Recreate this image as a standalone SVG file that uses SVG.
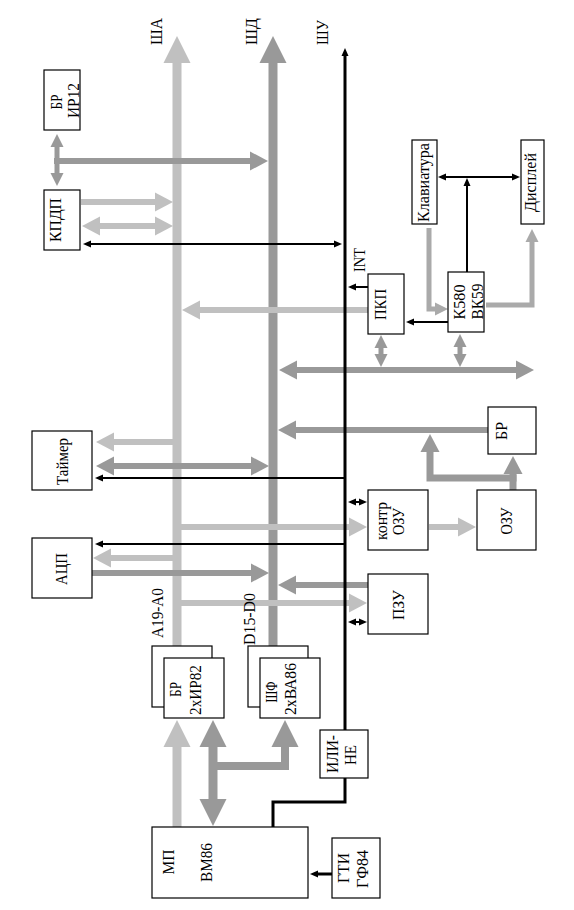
<svg xmlns="http://www.w3.org/2000/svg" width="574" height="910" viewBox="0 0 574 910">
<style>
.box{fill:#fff;stroke:#000;stroke-width:1.2}
.t{font-family:"Liberation Serif",serif;font-size:17.5px;fill:#000;text-anchor:middle}
.la{fill:none;stroke:#c0c0c0}
.da{fill:none;stroke:#999}
.ka{fill:none;stroke:#aaa}
.bk{fill:none;stroke:#000}
</style>
<defs>
<marker id="bA" markerUnits="userSpaceOnUse" markerWidth="28" markerHeight="28" viewBox="0 -14 28 28" refX="1" refY="0" orient="auto-start-reverse"><path d="M0,-13.5 L27,0 L0,13.5 z" fill="#c0c0c0"/></marker>
<marker id="bD" markerUnits="userSpaceOnUse" markerWidth="28" markerHeight="28" viewBox="0 -14 28 28" refX="1" refY="0" orient="auto-start-reverse"><path d="M0,-13.5 L27,0 L0,13.5 z" fill="#999"/></marker>
<marker id="mA" markerUnits="userSpaceOnUse" markerWidth="20" markerHeight="20" viewBox="0 -10 20 20" refX="1" refY="0" orient="auto-start-reverse"><path d="M0,-9.5 L18,0 L0,9.5 z" fill="#c0c0c0"/></marker>
<marker id="mD" markerUnits="userSpaceOnUse" markerWidth="20" markerHeight="20" viewBox="0 -10 20 20" refX="1" refY="0" orient="auto-start-reverse"><path d="M0,-9.5 L18,0 L0,9.5 z" fill="#999"/></marker>
<marker id="sD" markerUnits="userSpaceOnUse" markerWidth="16" markerHeight="16" viewBox="0 -8 16 16" refX="1" refY="0" orient="auto-start-reverse"><path d="M0,-6.5 L13,0 L0,6.5 z" fill="#999"/></marker>
<marker id="sK" markerUnits="userSpaceOnUse" markerWidth="16" markerHeight="16" viewBox="0 -8 16 16" refX="1" refY="0" orient="auto-start-reverse"><path d="M0,-6.5 L13,0 L0,6.5 z" fill="#aaa"/></marker>
<marker id="k" markerUnits="userSpaceOnUse" markerWidth="10" markerHeight="10" viewBox="0 -5 10 10" refX="1" refY="0" orient="auto-start-reverse"><path d="M0,-3.5 L8,0 L0,3.5 z" fill="#000"/></marker>
</defs>

<g id="connectors">
<line class="la" x1="177" y1="646" x2="177" y2="62" stroke-width="9" marker-end="url(#bA)"/>
<line class="da" x1="273" y1="646" x2="273" y2="62" stroke-width="9" marker-end="url(#bD)"/>

<line class="da" x1="57" y1="146" x2="57" y2="174" stroke-width="5" marker-start="url(#sD)" marker-end="url(#sD)"/>
<line class="da" x1="54" y1="161" x2="251" y2="161" stroke-width="6" marker-end="url(#mD)"/>
<line class="la" x1="81" y1="202" x2="156" y2="202" stroke-width="6" marker-end="url(#mA)"/>
<line class="la" x1="99" y1="226" x2="156" y2="226" stroke-width="6" marker-start="url(#mA)" marker-end="url(#mA)"/>

<line class="la" x1="368" y1="310" x2="199" y2="310" stroke-width="6" marker-end="url(#mA)"/>
<path class="ka" d="M429,228 V309 H436" stroke-width="5" marker-end="url(#sK)"/>
<path class="ka" d="M486,305 H532 V241" stroke-width="5" marker-end="url(#sK)"/>
<line class="da" x1="381" y1="347" x2="381" y2="355" stroke-width="5" marker-start="url(#sD)" marker-end="url(#sD)"/>
<line class="da" x1="460" y1="346" x2="460" y2="355" stroke-width="5" marker-start="url(#sD)" marker-end="url(#sD)"/>
<line class="da" x1="296" y1="370" x2="517" y2="370" stroke-width="6" marker-start="url(#mD)" marker-end="url(#mD)"/>

<line class="da" x1="488" y1="430" x2="295" y2="430" stroke-width="6" marker-end="url(#mD)"/>
<line class="da" x1="513" y1="490" x2="513" y2="473" stroke-width="7" marker-end="url(#mD)"/>
<path class="da" d="M516.5,478 H430 V451" stroke-width="7" marker-end="url(#mD)"/>

<line class="la" x1="177" y1="442" x2="113" y2="442" stroke-width="6" marker-end="url(#mA)"/>
<line class="da" x1="113" y1="466" x2="252" y2="466" stroke-width="6" marker-start="url(#mD)" marker-end="url(#mD)"/>
<line class="la" x1="180" y1="527" x2="350" y2="527" stroke-width="6" marker-end="url(#mA)"/>
<line class="la" x1="429" y1="527" x2="459" y2="527" stroke-width="6" marker-end="url(#mA)"/>
<line class="la" x1="177" y1="558" x2="110" y2="558" stroke-width="6" marker-end="url(#mA)"/>
<line class="da" x1="92" y1="573" x2="252" y2="573" stroke-width="6" marker-end="url(#mD)"/>
<line class="da" x1="368" y1="585" x2="295" y2="585" stroke-width="6" marker-end="url(#mD)"/>
<line class="la" x1="180" y1="603" x2="350" y2="603" stroke-width="6" marker-end="url(#mA)"/>

<line class="la" x1="177" y1="827" x2="177" y2="746" stroke-width="9" marker-end="url(#bA)"/>
<line class="da" x1="213" y1="746" x2="213" y2="800" stroke-width="9" marker-start="url(#bD)" marker-end="url(#bD)"/>
<path class="da" d="M213,766 H285 V746" stroke-width="8" marker-end="url(#bD)"/>

<line class="bk" x1="345" y1="730" x2="345" y2="55" stroke-width="3" marker-end="url(#k)"/>
<line class="bk" x1="90" y1="244" x2="335" y2="244" stroke-width="2" marker-start="url(#k)" marker-end="url(#k)"/>
<line class="bk" x1="368" y1="287" x2="355" y2="287" stroke-width="2" marker-end="url(#k)"/>
<line class="bk" x1="445" y1="177" x2="513" y2="177" stroke-width="2" marker-start="url(#k)" marker-end="url(#k)"/>
<line class="bk" x1="467" y1="272" x2="467" y2="185" stroke-width="2" marker-end="url(#k)"/>
<line class="bk" x1="448" y1="322" x2="413" y2="322" stroke-width="2" marker-end="url(#k)"/>
<line class="bk" x1="345" y1="478" x2="102" y2="478" stroke-width="2" marker-end="url(#k)"/>
<line class="bk" x1="345" y1="544" x2="102" y2="544" stroke-width="2" marker-end="url(#k)"/>
<line class="bk" x1="355" y1="502" x2="360" y2="502" stroke-width="2" marker-start="url(#k)" marker-end="url(#k)"/>
<line class="bk" x1="355" y1="622" x2="360" y2="622" stroke-width="2" marker-start="url(#k)" marker-end="url(#k)"/>
<line class="bk" x1="332" y1="874" x2="317" y2="874" stroke-width="3" marker-end="url(#k)"/>
<path class="bk" d="M345,778 V802 H273 V827" stroke-width="3"/>
</g>

<g id="bus-labels">
<text class="t" transform="translate(162,31.5) rotate(-90)" textLength="27" lengthAdjust="spacingAndGlyphs">ША</text>
<text class="t" transform="translate(257,31.5) rotate(-90)" textLength="27" lengthAdjust="spacingAndGlyphs">ШД</text>
<text class="t" transform="translate(328,32.5) rotate(-90)" textLength="25" lengthAdjust="spacingAndGlyphs">ШУ</text>
<text class="t" transform="translate(365,260) rotate(-90)" textLength="24" lengthAdjust="spacingAndGlyphs">INT</text>
<text class="t" transform="translate(163,613) rotate(-90)" textLength="50" lengthAdjust="spacingAndGlyphs">A19-A0</text>
<text class="t" transform="translate(255,619) rotate(-90)" textLength="52" lengthAdjust="spacingAndGlyphs">D15-D0</text>
</g>

<g id="br-ir12">
<rect class="box" x="44" y="70" width="36" height="60"/>
<text class="t" transform="translate(62,102) rotate(-90)" textLength="15" lengthAdjust="spacingAndGlyphs">БР</text>
<text class="t" transform="translate(79,100.5) rotate(-90)" textLength="35" lengthAdjust="spacingAndGlyphs">ИР12</text>
</g>
<g id="kpdp">
<rect class="box" x="44" y="190" width="36" height="60"/>
<text class="t" transform="translate(61,220) rotate(-90)" textLength="44" lengthAdjust="spacingAndGlyphs">КПДП</text>
</g>
<g id="pkp">
<rect class="box" x="368" y="274" width="36" height="60"/>
<text class="t" transform="translate(385.5,304.5) rotate(-90)" textLength="31" lengthAdjust="spacingAndGlyphs">ПКП</text>
</g>
<g id="klaviatura">
<rect class="box" x="412" y="140" width="25" height="84"/>
<text class="t" transform="translate(428.5,182.5) rotate(-90)" textLength="79" lengthAdjust="spacingAndGlyphs">Клавиатура</text>
</g>
<g id="display">
<rect class="box" x="521" y="140" width="23" height="84"/>
<text class="t" transform="translate(535.5,182.5) rotate(-90)" textLength="59" lengthAdjust="spacingAndGlyphs">Дисплей</text>
</g>
<g id="k580">
<rect class="box" x="448" y="272" width="36" height="60"/>
<text class="t" transform="translate(465,302) rotate(-90)" textLength="35" lengthAdjust="spacingAndGlyphs">К580</text>
<text class="t" transform="translate(482.5,301.5) rotate(-90)" textLength="36" lengthAdjust="spacingAndGlyphs">ВК59</text>
</g>
<g id="br-right">
<rect class="box" x="488" y="407" width="48" height="47"/>
<text class="t" transform="translate(506.5,431) rotate(-90)" textLength="18" lengthAdjust="spacingAndGlyphs">БР</text>
</g>
<g id="kontr-ozu">
<rect class="box" x="368" y="490" width="60" height="60"/>
<text class="t" transform="translate(386.5,521) rotate(-90)" textLength="38" lengthAdjust="spacingAndGlyphs">контр</text>
<text class="t" transform="translate(403.5,521.5) rotate(-90)" textLength="27" lengthAdjust="spacingAndGlyphs">ОЗУ</text>
</g>
<g id="ozu">
<rect class="box" x="477" y="490" width="59" height="60"/>
<text class="t" transform="translate(511.5,521) rotate(-90)" textLength="27" lengthAdjust="spacingAndGlyphs">ОЗУ</text>
</g>
<g id="pzu">
<rect class="box" x="368" y="574" width="60" height="60"/>
<text class="t" transform="translate(403.5,605) rotate(-90)" textLength="30" lengthAdjust="spacingAndGlyphs">ПЗУ</text>
</g>
<g id="timer">
<rect class="box" x="32" y="431" width="60" height="59"/>
<text class="t" transform="translate(67.5,461.5) rotate(-90)" textLength="47" lengthAdjust="spacingAndGlyphs">Таймер</text>
</g>
<g id="adc">
<rect class="box" x="32" y="538" width="60" height="60"/>
<text class="t" transform="translate(66.5,569) rotate(-90)" textLength="32" lengthAdjust="spacingAndGlyphs">АЦП</text>
</g>
<g id="br-ir82">
<rect class="box" x="152" y="646" width="60" height="61"/>
<rect class="box" x="164" y="658" width="60" height="60"/>
<text class="t" transform="translate(180.5,689.5) rotate(-90)" textLength="15" lengthAdjust="spacingAndGlyphs">БР</text>
<text class="t" transform="translate(200.5,690) rotate(-90)" textLength="50" lengthAdjust="spacingAndGlyphs">2хИР82</text>
</g>
<g id="shf-va86">
<rect class="box" x="248" y="646" width="60" height="61"/>
<rect class="box" x="260" y="658" width="60" height="60"/>
<text class="t" transform="translate(276.5,692) rotate(-90)" textLength="21" lengthAdjust="spacingAndGlyphs">ШФ</text>
<text class="t" transform="translate(295.5,689) rotate(-90)" textLength="52" lengthAdjust="spacingAndGlyphs">2хВА86</text>
</g>
<g id="ili-ne">
<rect class="box" x="320" y="730" width="48" height="48"/>
<text class="t" transform="translate(337.5,754) rotate(-90)" textLength="38" lengthAdjust="spacingAndGlyphs">ИЛИ-</text>
<text class="t" transform="translate(355.5,755) rotate(-90)" textLength="20" lengthAdjust="spacingAndGlyphs">НЕ</text>
</g>
<g id="mp">
<rect class="box" x="152" y="827" width="156" height="71"/>
<text class="t" transform="translate(173.5,862) rotate(-90)" textLength="25" lengthAdjust="spacingAndGlyphs">МП</text>
<text class="t" transform="translate(211.5,862.5) rotate(-90)" textLength="39" lengthAdjust="spacingAndGlyphs">ВМ86</text>
</g>
<g id="gti">
<rect class="box" x="332" y="838" width="48" height="60"/>
<text class="t" transform="translate(348.5,868) rotate(-90)" textLength="30" lengthAdjust="spacingAndGlyphs">ГТИ</text>
<text class="t" transform="translate(367.5,869) rotate(-90)" textLength="38" lengthAdjust="spacingAndGlyphs">ГФ84</text>
</g>
</svg>
